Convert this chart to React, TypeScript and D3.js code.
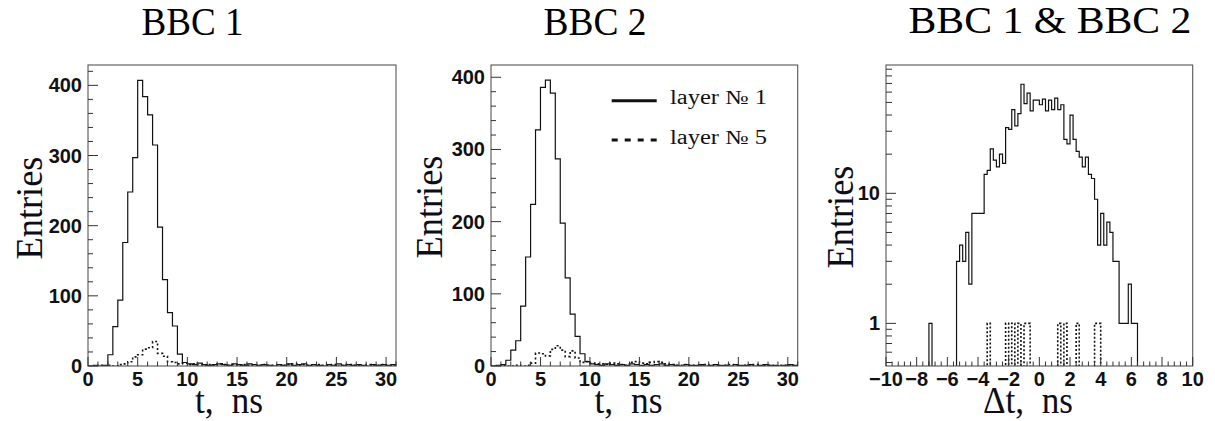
import React from "react";
import * as d3 from "d3";

// ---------- data ----------
const T_MIN = 0;
const T_MAX = 31;
const T_BIN = 0.5;

// BBC 1, time spectra (bins of 0.5 ns starting at 0)
const bbc1Layer1 = [
  0, 1, 0, 1, 16, 56, 94, 176, 248, 297, 407, 384, 358, 315, 198, 123, 76, 57, 17, 5,
  3, 2, 4, 2, 1, 2, 3, 2, 1, 3, 2, 1, 3, 2, 1, 2, 1, 0, 2, 1,
  3, 1, 2, 3, 1, 2, 1, 0, 2, 1, 3, 1, 2, 1, 2, 1, 0, 2, 1, 2, 1, 2,
];
const bbc1Layer5 = [
  0, 0, 1, 0, 1, 0, 2, 3, 6, 13, 16, 24, 26, 35, 18, 14, 6, 5, 3, 4,
  2, 3, 2, 1, 2, 1, 3, 2, 1, 2, 1, 2, 1, 0, 1, 2, 1, 1, 0, 1,
  2, 3, 1, 2, 1, 0, 2, 1, 1, 2, 0, 1, 2, 1, 1, 0, 2, 1, 1, 2, 1, 0,
];

// BBC 2, time spectra
const bbc2Layer1 = [
  0, 1, 2, 8, 22, 35, 83, 151, 224, 327, 386, 396, 378, 287, 198, 122, 72, 41, 17, 6,
  3, 2, 1, 3, 2, 1, 2, 1, 3, 2, 1, 2, 1, 2, 3, 1, 2, 1, 0, 2,
  1, 1, 2, 0, 1, 2, 1, 1, 0, 2, 1, 1, 2, 0, 1, 2, 1, 1, 0, 1, 2, 1,
];
const bbc2Layer5 = [
  0, 0, 1, 0, 0, 1, 0, 1, 4, 18, 17, 14, 23, 28, 22, 13, 21, 11, 5, 6,
  4, 3, 3, 2, 4, 3, 2, 1, 5, 6, 4, 3, 5, 6, 5, 3, 2, 1, 1, 2,
  1, 0, 1, 2, 1, 1, 0, 1, 2, 1, 0, 1, 1, 2, 0, 1, 1, 0, 1, 1, 0, 1,
];

// BBC 1 & BBC 2 time difference (bins of 0.2 ns starting at -10)
const DT_MIN = -10;
const DT_MAX = 10;
const DT_BIN = 0.2;
const dtLayer1 = [
  0, 0, 0, 0, 0, 0, 0, 0, 0, 0, 0, 0, 0, 0, 1, 0, 0, 0, 0, 0,
  0, 0, 0, 3, 4, 3, 5, 2, 7, 7, 7, 7, 14, 15, 22, 18, 16, 20, 17, 32,
  31, 44, 33, 41, 69, 49, 59, 43, 52, 52, 48, 53, 43, 52, 44, 54, 44, 48, 26, 24,
  40, 26, 21, 19, 16, 19, 14, 13, 9, 4, 7, 4, 6, 5, 3, 3, 1, 1, 1, 2,
  1, 1, 0, 0, 0, 0, 0, 0, 0, 0, 0, 0, 0, 0, 0, 0, 0, 0, 0, 0,
];
const dtLayer5 = [
  0, 0, 0, 0, 0, 0, 0, 0, 0, 0, 0, 0, 0, 0, 0, 0, 0, 0, 0, 0,
  0, 0, 0, 0, 0, 0, 0, 0, 0, 0, 0, 0, 0, 1, 0, 0, 0, 0, 0, 1,
  0, 1, 0, 1, 0, 1, 1, 0, 0, 0, 0, 0, 0, 0, 0, 0, 1, 0, 1, 0,
  0, 0, 1, 0, 0, 0, 0, 0, 1, 1, 0, 0, 0, 0, 0, 0, 0, 0, 0, 0,
  0, 0, 0, 0, 0, 0, 0, 0, 0, 0, 0, 0, 0, 0, 0, 0, 0, 0, 0, 0,
];

const tMajor = [0, 5, 10, 15, 20, 25, 30];
const entriesMajor = [0, 100, 200, 300, 400];
const dtMajor = [-10, -8, -6, -4, -2, 0, 2, 4, 6, 8, 10];
const logMajor = [1, 10];
const titles = ["BBC 1", "BBC 2", "BBC 1 & BBC 2"];
const legendLabels = ["layer № 1", "layer № 5"];

// ---------- helpers ----------
const SERIF = "'Liberation Serif', 'Times New Roman', serif";
const SANS = "'Liberation Sans', Arial, Helvetica, sans-serif";
const INK = "#111";

type Frame = { left: number; right: number; top: number; bottom: number };

function histPath(
  values: number[],
  x0: number,
  bw: number,
  xs: (v: number) => number,
  ys: (v: number) => number,
  floor: number
) {
  const pts: [number, number][] = [];
  pts.push([xs(x0), floor]);
  values.forEach((v, i) => pts.push([xs(x0 + i * bw), ys(v)]));
  pts.push([xs(x0 + values.length * bw), ys(values[values.length - 1])]);
  pts.push([xs(x0 + values.length * bw), floor]);
  return d3.line().curve(d3.curveStepAfter)(pts) || "";
}

function fmtMinus(v: number) {
  return v < 0 ? "\u2212" + Math.abs(v) : String(v);
}

type PanelProps = {
  id: string;
  frame: Frame;
  xDomain: [number, number];
  xMajor: number[];
  xMinorStep: number;
  log: boolean;
  yDomain: [number, number];
  yMajor: number[];
  yMinor: number[];
  series: { values: number[]; dashed: boolean }[];
  x0: number;
  bw: number;
  title: string;
  titleX: number;
  titleY: number;
  titleSize: number;
  titleLen: number;
  entriesX: number;
  entriesY: number;
  xLabel: string;
  xLabelX: number;
  xLabelLen: number;
  dotDash: string;
};

function Panel(p: PanelProps) {
  const { frame } = p;
  const xs = d3.scaleLinear().domain(p.xDomain).range([frame.left, frame.right]);
  const yScale: any = p.log
    ? d3.scaleLog().domain(p.yDomain).range([frame.bottom, frame.top])
    : d3.scaleLinear().domain(p.yDomain).range([frame.bottom, frame.top]);
  const ys = (v: number) => (p.log ? (v > 0 ? yScale(v) : frame.bottom + 6) : yScale(v));
  const floor = p.log ? frame.bottom + 6 : frame.bottom;

  const xMinor = d3
    .range(p.xDomain[0], p.xDomain[1] + 1e-9, p.xMinorStep)
    .filter((v) => !p.xMajor.some((m) => Math.abs(m - v) < 1e-6));

  const majLen = 9;
  const minLen = 4.5;
  const yMajLen = 10;
  const yMinLen = p.log ? 6 : 5;

  return (
    <g>
      <defs>
        <clipPath id={p.id}>
          <rect x={frame.left} y={frame.top} width={frame.right - frame.left} height={frame.bottom - frame.top} />
        </clipPath>
      </defs>
      <g clipPath={`url(#${p.id})`}>
        {p.series.map((s, i) => (
          <path
            key={i}
            d={histPath(s.values, p.x0, p.bw, xs, ys, floor)}
            fill="none"
            stroke={INK}
            strokeWidth={s.dashed ? 1.6 : 1.2}
            strokeDasharray={s.dashed ? p.dotDash : undefined}
          />
        ))}
      </g>
      {/* frame */}
      <rect
        x={frame.left}
        y={frame.top}
        width={frame.right - frame.left}
        height={frame.bottom - frame.top}
        fill="none"
        stroke="#555"
        strokeWidth={1.1}
      />
      {/* x ticks */}
      {p.xMajor.map((v) => (
        <line key={"xM" + v} x1={xs(v)} x2={xs(v)} y1={frame.bottom} y2={frame.bottom - majLen} stroke="#333" strokeWidth={1} />
      ))}
      {xMinor.map((v) => (
        <line key={"xm" + v} x1={xs(v)} x2={xs(v)} y1={frame.bottom} y2={frame.bottom - minLen} stroke="#333" strokeWidth={1} />
      ))}
      {p.xMajor.map((v) => (
        <text
          key={"xl" + v}
          x={xs(v)}
          y={frame.bottom + 20}
          textAnchor="middle"
          fontFamily={SANS}
          fontWeight="bold"
          fontSize={20}
          fill={INK}
        >
          {fmtMinus(v)}
        </text>
      ))}
      {/* y ticks */}
      {p.yMajor.map((v) => (
        <line key={"yM" + v} x1={frame.left} x2={frame.left + yMajLen} y1={yScale(v)} y2={yScale(v)} stroke="#333" strokeWidth={1} />
      ))}
      {p.yMinor.map((v) => (
        <line key={"ym" + v} x1={frame.left} x2={frame.left + yMinLen} y1={yScale(v)} y2={yScale(v)} stroke="#333" strokeWidth={1} />
      ))}
      {p.yMajor.map((v) => (
        <text
          key={"yl" + v}
          x={frame.left - 6}
          y={yScale(v) + 7}
          textAnchor="end"
          fontFamily={SANS}
          fontWeight="bold"
          fontSize={20}
          fill={INK}
        >
          {v}
        </text>
      ))}
      {/* title */}
      <text
        x={p.titleX}
        y={p.titleY}
        textAnchor="middle"
        fontFamily={SERIF}
        fontSize={p.titleSize}
        textLength={p.titleLen}
        lengthAdjust="spacingAndGlyphs"
        fill="#000"
      >
        {p.title}
      </text>
      {/* y label */}
      <text
        transform={`translate(${p.entriesX},${p.entriesY}) rotate(-90)`}
        textAnchor="middle"
        fontFamily={SERIF}
        fontSize={38}
        textLength={103}
        lengthAdjust="spacingAndGlyphs"
        fill="#0d0d1a"
      >
        Entries
      </text>
      {/* x label */}
      <text
        x={p.xLabelX}
        y={413}
        textAnchor="middle"
        fontFamily={SERIF}
        fontSize={38}
        textLength={p.xLabelLen}
        lengthAdjust="spacingAndGlyphs"
        fill="#0d0d1a"
      >
        {p.xLabel}
      </text>
    </g>
  );
}

export default function App() {
  const f1: Frame = { left: 88, right: 396, top: 65, bottom: 366 };
  const f2: Frame = { left: 491, right: 797.7, top: 65, bottom: 366 };
  const f3: Frame = { left: 886, right: 1192.7, top: 65, bottom: 366 };

  const linMinor1 = d3.range(0, 429, 20).filter((v) => v % 100 !== 0);
  const linMinor2 = d3.range(0, 417, 20).filter((v) => v % 100 !== 0);
  const logMinor: number[] = [];
  [0.1, 1, 10].forEach((d) => {
    for (let k = 2; k <= 9; k++) {
      const v = k * d;
      if (v >= 0.47 && v <= 97) logMinor.push(v);
    }
  });

  return (
    <svg
      width={1215}
      height={421}
      style={{ position: "absolute", left: 0, top: 0, background: "#fff" }}
    >
      <rect x={0} y={0} width={1215} height={421} fill="#fff" />
      <Panel
        id="c1"
        frame={f1}
        xDomain={[T_MIN, T_MAX]}
        xMajor={tMajor}
        xMinorStep={1}
        log={false}
        yDomain={[0, 429]}
        yMajor={entriesMajor}
        yMinor={linMinor1}
        series={[
          { values: bbc1Layer1, dashed: false },
          { values: bbc1Layer5, dashed: true },
        ]}
        x0={T_MIN}
        bw={T_BIN}
        title={titles[0]}
        titleX={192.5}
        titleY={35}
        titleSize={40}
        titleLen={102}
        entriesX={42}
        entriesY={208}
        xLabel={"t,\u00A0\u00A0ns"}
        xLabelX={229}
        xLabelLen={68}
        dotDash="2 2.5"
      />
      <Panel
        id="c2"
        frame={f2}
        xDomain={[T_MIN, T_MAX]}
        xMajor={tMajor}
        xMinorStep={1}
        log={false}
        yDomain={[0, 417]}
        yMajor={entriesMajor}
        yMinor={linMinor2}
        series={[
          { values: bbc2Layer1, dashed: false },
          { values: bbc2Layer5, dashed: true },
        ]}
        x0={T_MIN}
        bw={T_BIN}
        title={titles[1]}
        titleX={595}
        titleY={35}
        titleSize={40}
        titleLen={103}
        entriesX={442}
        entriesY={207}
        xLabel={"t,\u00A0\u00A0ns"}
        xLabelX={628.5}
        xLabelLen={68}
        dotDash="2 2.5"
      />
      <Panel
        id="c3"
        frame={f3}
        xDomain={[DT_MIN, DT_MAX]}
        xMajor={dtMajor}
        xMinorStep={0.4}
        log={true}
        yDomain={[0.47, 97]}
        yMajor={logMajor}
        yMinor={logMinor}
        series={[
          { values: dtLayer1, dashed: false },
          { values: dtLayer5, dashed: true },
        ]}
        x0={DT_MIN}
        bw={DT_BIN}
        title={titles[2]}
        titleX={1050}
        titleY={33}
        titleSize={38}
        titleLen={283}
        entriesX={853}
        entriesY={217}
        xLabel={"\u0394t,\u00A0\u00A0ns"}
        xLabelX={1028}
        xLabelLen={90}
        dotDash="2 2"
      />
      {/* legend in BBC 2 panel */}
      <g>
        <line x1={611.7} x2={656.7} y1={100.7} y2={100.7} stroke={INK} strokeWidth={3} />
        <text x={670} y={104} fontFamily={SERIF} fontSize={20} textLength={97} lengthAdjust="spacingAndGlyphs" fill={INK}>
          {legendLabels[0]}
        </text>
        <line x1={611.7} x2={656.7} y1={140} y2={140} stroke={INK} strokeWidth={3} strokeDasharray="6 7" />
        <text x={670} y={144} fontFamily={SERIF} fontSize={20} textLength={97} lengthAdjust="spacingAndGlyphs" fill={INK}>
          {legendLabels[1]}
        </text>
      </g>
    </svg>
  );
}
